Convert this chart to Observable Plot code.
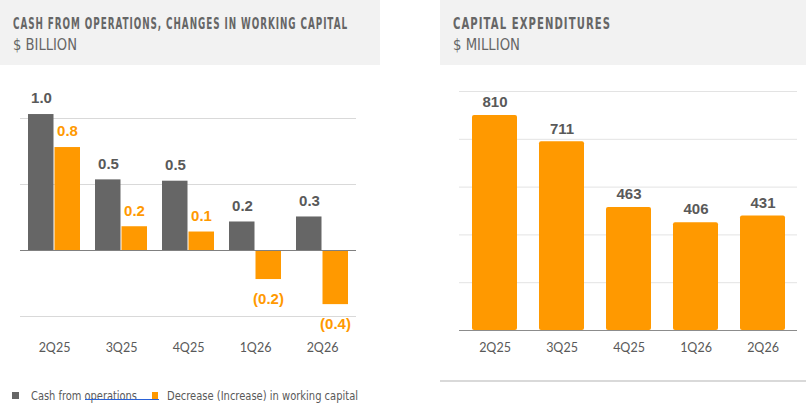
<!DOCTYPE html>
<html>
<head>
<meta charset="utf-8">
<script src="https://cdn.jsdelivr.net/npm/d3@7"></script>
<script src="https://cdn.jsdelivr.net/npm/@observablehq/plot@0.6"></script>
<style>
  html, body { margin: 0; padding: 0; background: #fff; }
  body { width: 806px; height: 411px; position: relative; overflow: hidden; font-family: "DejaVu Sans", sans-serif; }
  .panel { position: absolute; top: 0; }
  .tbox { position: absolute; top: 0; height: 65px; background: #f2f2f2; }
  .fit { position: absolute; display: inline-block; white-space: nowrap; line-height: 1; transform-origin: 0 50%; }
  .t1 { font-weight: bold; font-size: 15px; color: #666; letter-spacing: 1.6px; }
  .t2 { font-size: 16px; color: #666; }
  .lt { font-size: 13px; color: #595959; }
  .sw { position: absolute; width: 7px; height: 7px; }
  .bline { position: absolute; left: 440px; top: 380px; width: 366px; height: 2px; background: #d9d9d9; }
  .uline { position: absolute; left: 85px; top: 399px; width: 74px; height: 1px; background: #2a62d8; }
</style>
</head>
<body>
<script>
// ---- data ----
const quarters = ["2Q25", "3Q25", "4Q25", "1Q26", "2Q26"];
const cashFromOps = [1.03, 0.535, 0.525, 0.216, 0.254];
const wcChange = [0.78, 0.18, 0.14, -0.22, -0.41];
const capex = [810, 711, 463, 406, 431];
const seriesNames = ["Cash from operations", "Decrease (Increase) in working capital"];
const leftTicks = [-0.5, 0.5, 1.0];
const rightTicks = [180, 360, 540, 720, 900];

const GRAY = "#666666", ORANGE = "#ff9900", LABEL = "#595959";
const fontFam = "'Liberation Sans', Arial, sans-serif";
const axisFam = "Lato, sans-serif";

const cfoData = quarters.map((q, i) => ({q, v: cashFromOps[i]}));
const wcData = quarters.map((q, i) => ({q, v: wcChange[i]}));
const capData = quarters.map((q, i) => ({q, v: capex[i]}));
const fmt = v => v < 0 ? `(${d3.format(".1f")(-v)})` : d3.format(".1f")(v);

// ---- left chart ----
const left = Plot.plot({
  width: 380, height: 380,
  marginLeft: 20, marginRight: 24, marginTop: 118, marginBottom: 64,
  style: {background: "transparent", fontFamily: fontFam, overflow: "visible"},
  x: {domain: quarters, paddingInner: 0.226, paddingOuter: 0.113},
  y: {domain: [-0.5, 1.0]},
  marks: [
    Plot.gridY(leftTicks, {stroke: "#d9d9d9", strokeOpacity: 1}),
    Plot.barY(cfoData, {x: "q", y: "v", fill: GRAY, insetRight: 26.5}),
    Plot.barY(wcData, {x: "q", y: "v", fill: ORANGE, insetLeft: 26.5}),
    Plot.ruleY([0], {stroke: "#808080"}),
    Plot.text(cfoData, {x: "q", y: "v", text: d => fmt(d.v), dx: -13, dy: -16, fill: LABEL, fontWeight: "bold", fontSize: 15}),
    Plot.text(wcData.filter(d => d.v >= 0), {x: "q", y: "v", text: d => fmt(d.v), dx: 13, dy: -16, fill: ORANGE, fontWeight: "bold", fontSize: 15}),
    Plot.text(wcData.filter(d => d.v < 0), {x: "q", y: "v", text: d => fmt(d.v), dx: 13, dy: 20, fill: ORANGE, fontWeight: "bold", fontSize: 15}),
    Plot.axisX({tickSize: 0, tickPadding: 27, label: null, fontSize: 12.5, fill: LABEL, fontFamily: axisFam}),
    Plot.axisY({ticks: [], label: null, tickSize: 0})
  ]
});

// ---- right chart ----
const right = Plot.plot({
  width: 366, height: 380,
  marginLeft: 19, marginRight: 9, marginTop: 91, marginBottom: 50,
  style: {background: "transparent", fontFamily: fontFam, overflow: "visible"},
  x: {domain: quarters, paddingInner: 0.334, paddingOuter: 0.167},
  y: {domain: [0, 900]},
  marks: [
    Plot.gridY(rightTicks, {stroke: "#e3e3e3", strokeOpacity: 1}),
    Plot.barY(capData, {x: "q", y: "v", fill: ORANGE, rx: 2}),
    Plot.ruleY([0], {stroke: "#8c8c8c"}),
    Plot.text(capData, {x: "q", y: "v", text: d => String(d.v), dy: -13, fill: LABEL, fontWeight: "bold", fontSize: 15}),
    Plot.axisX({tickSize: 0, tickPadding: 13, label: null, fontSize: 12.5, fill: LABEL, fontFamily: axisFam}),
    Plot.axisY({ticks: [], label: null, tickSize: 0})
  ]
});

// ---- layout helpers ----
function addText(parent, cls, text, x, centerY, targetW) {
  const el = document.createElement("div");
  el.className = "fit " + cls;
  el.textContent = text;
  parent.appendChild(el);
  const f = parseFloat(getComputedStyle(el).fontSize);
  el.style.left = x + "px";
  el.style.top = (centerY - 0.5 * f) + "px";
  const w = el.getBoundingClientRect().width;
  if (targetW && w > 0) el.style.transform = `scaleX(${targetW / w})`;
  return el;
}
function panel(x, w, svg, title, sub, titleW, subW) {
  const p = document.createElement("div");
  p.className = "panel";
  p.style.left = x + "px";
  p.style.width = w + "px";
  svg.style.position = "absolute";
  svg.style.left = "0px";
  svg.style.top = "0px";
  const box = document.createElement("div");
  box.className = "tbox";
  box.style.left = "0px";
  box.style.width = w + "px";
  p.appendChild(box);
  p.appendChild(svg);
  document.body.appendChild(p);
  addText(box, "t1", title, 13, 24, titleW);
  addText(box, "t2", sub, 13, 44.5, subW);
  return p;
}
panel(0, 380, left, "CASH FROM OPERATIONS, CHANGES IN WORKING CAPITAL", "$ BILLION", 335, 64);
panel(440, 366, right, "CAPITAL EXPENDITURES", "$ MILLION", 158, 67);

// legend
const sw1 = document.createElement("div");
sw1.className = "sw"; sw1.style.left = "12px"; sw1.style.top = "392px"; sw1.style.background = GRAY;
document.body.appendChild(sw1);
const sw2 = document.createElement("div");
sw2.className = "sw"; sw2.style.left = "152px"; sw2.style.top = "392px"; sw2.style.width = "6px"; sw2.style.background = ORANGE;
document.body.appendChild(sw2);
addText(document.body, "lt", seriesNames[0], 31, 395, 106);
addText(document.body, "lt", seriesNames[1], 167, 395, 191);
const ul = document.createElement("div");
ul.className = "uline";
document.body.appendChild(ul);

const bl = document.createElement("div");
bl.className = "bline";
document.body.appendChild(bl);
</script>
</body>
</html>
